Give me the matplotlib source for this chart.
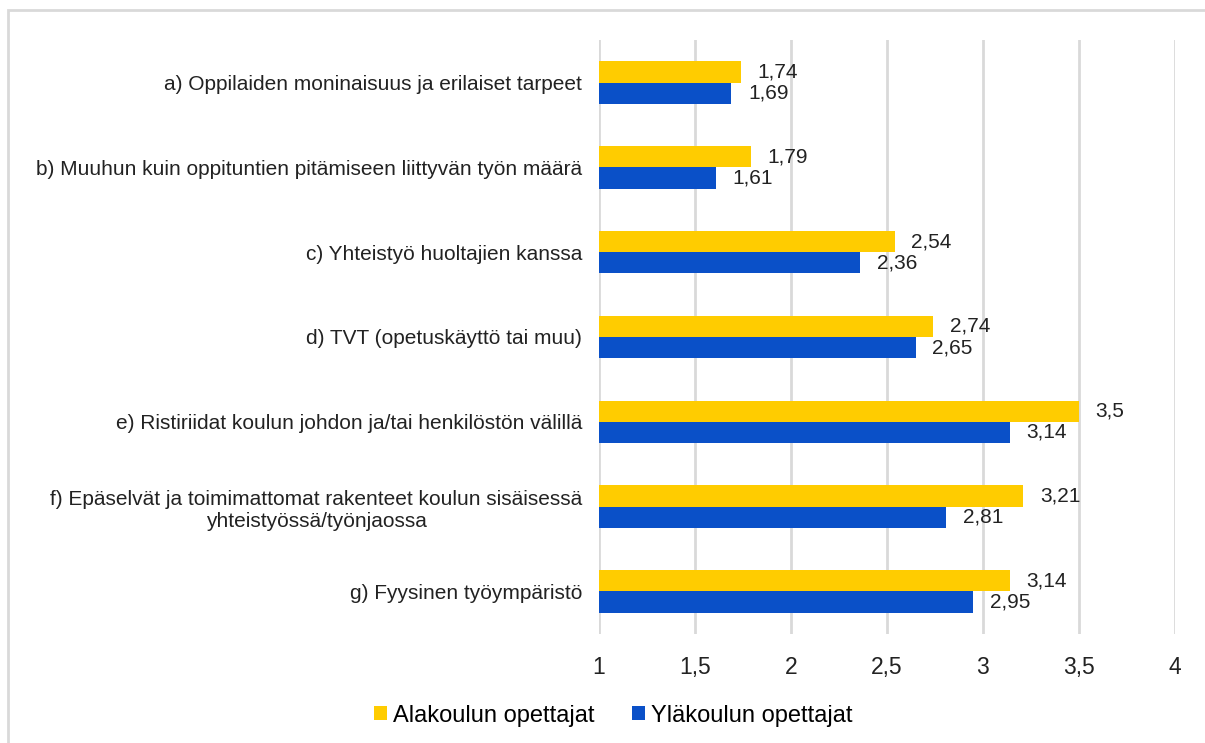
import matplotlib.pyplot as plt
import numpy as np
from matplotlib.patches import Rectangle

plt.rcParams['font.family'] = ['Liberation Sans', 'DejaVu Sans']

categories = [
    "a) Oppilaiden moninaisuus ja erilaiset tarpeet",
    "b) Muuhun kuin oppituntien pitämiseen liittyvän työn määrä",
    "c) Yhteistyö huoltajien kanssa",
    "d) TVT (opetuskäyttö tai muu)",
    "e) Ristiriidat koulun johdon ja/tai henkilöstön välillä",
    "f) Epäselvät ja toimimattomat rakenteet koulun sisäisessä\nyhteistyössä/työnjaossa",
    "g) Fyysinen työympäristö",
]
alakoulu = [1.74, 1.79, 2.54, 2.74, 3.5, 3.21, 3.14]
ylakoulu = [1.69, 1.61, 2.36, 2.65, 3.14, 2.81, 2.95]
xticks = [1, 1.5, 2, 2.5, 3, 3.5, 4]

YELLOW = "#FFCC00"
BLUE = "#0A50C8"
TXT = "#222222"

fig = plt.figure(figsize=(12.05, 7.43), dpi=100)
ax = fig.add_axes([0.497, 0.147, 0.478, 0.799])

y = np.arange(len(categories))
h = 0.25
ax.barh(y - h / 2, alakoulu, height=h, left=0, color=YELLOW, label="Alakoulun opettajat", zorder=3)
ax.barh(y + h / 2, ylakoulu, height=h, left=0, color=BLUE, label="Yläkoulun opettajat", zorder=3)

def fmt(v):
    return ("%g" % v).replace(".", ",")

for i in range(len(categories)):
    ax.annotate(fmt(alakoulu[i]), (alakoulu[i], y[i] - h / 2), xytext=(12, 0),
                textcoords="offset points", va="center", ha="left", fontsize=15, color=TXT)
    ax.annotate(fmt(ylakoulu[i]), (ylakoulu[i], y[i] + h / 2), xytext=(12, 0),
                textcoords="offset points", va="center", ha="left", fontsize=15, color=TXT)

ax.set_xlim(1, 4)
ax.set_ylim(len(categories) - 0.5, -0.5)
ax.set_xticks(xticks)
ax.set_xticklabels([fmt(t) for t in xticks], fontsize=16.5, color=TXT)
ax.set_yticks(y)
ax.set_yticklabels(categories, fontsize=15, color=TXT, multialignment="center",
                   linespacing=1.25)
ax.tick_params(axis="x", length=0, pad=16)
ax.tick_params(axis="y", length=0, pad=12)
ax.grid(axis="x", color="#D9D9D9", linewidth=2, zorder=0)
for s in ax.spines.values():
    s.set_visible(False)

fig.legend(loc="center", bbox_to_anchor=(0.509, 0.037), ncol=2, frameon=False,
           fontsize=17, handlelength=0.55, handleheight=0.55, handletextpad=0.25,
           columnspacing=1.6)

# light frame around the chart
fig.patches.append(Rectangle((8 / 1205, -0.1), 1.2, 1 - 10 / 743 + 0.1,
                             transform=fig.transFigure, fill=False,
                             edgecolor="#D9D9D9", linewidth=2))

fig.savefig("out.png", dpi=100)
